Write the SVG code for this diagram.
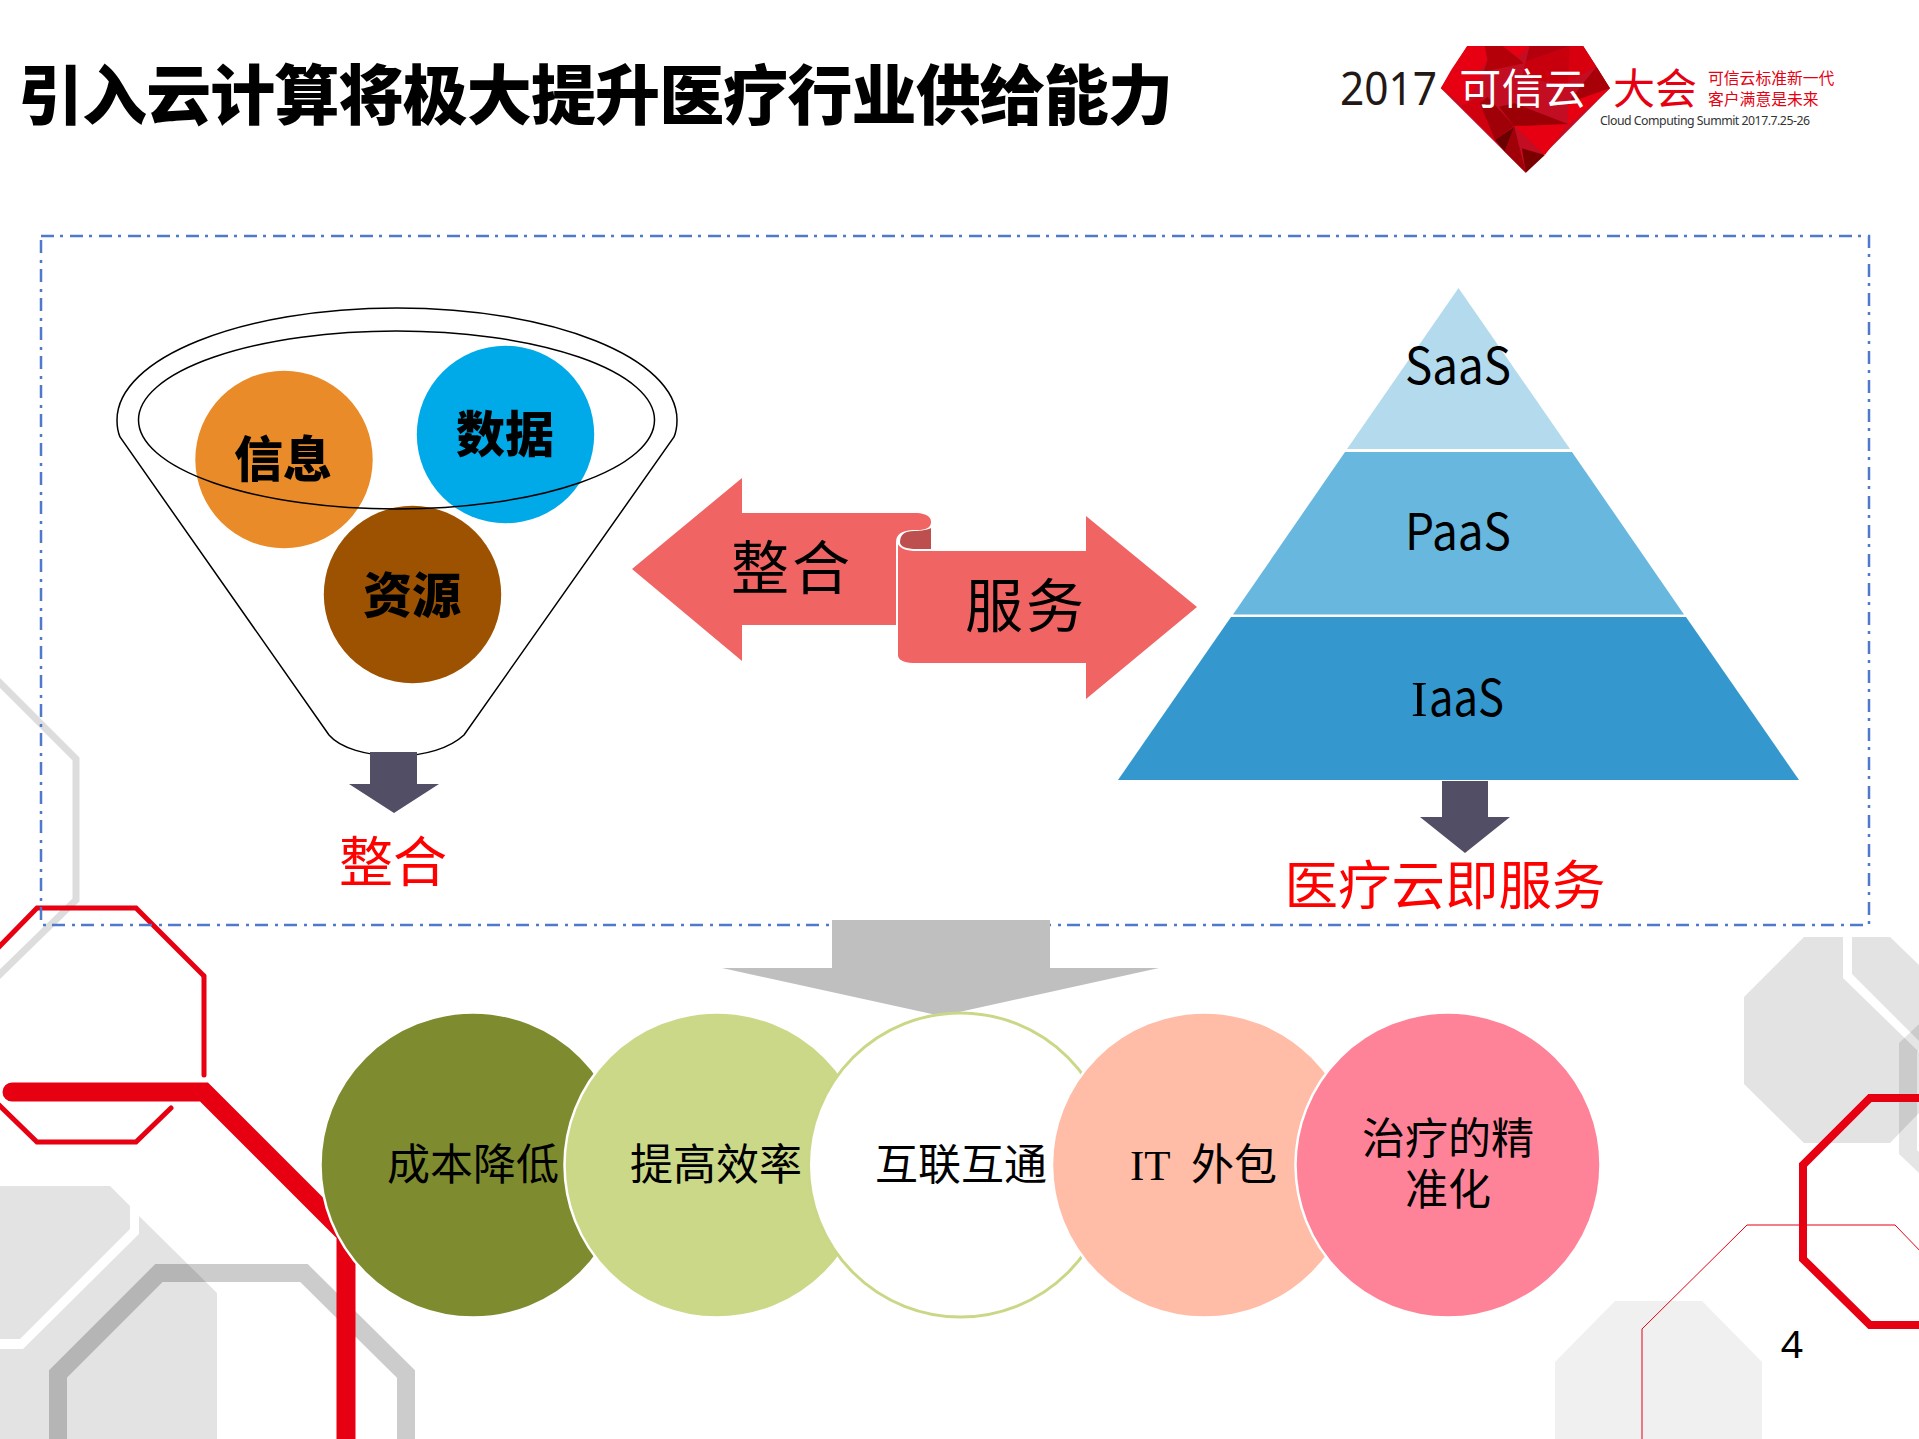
<svg xmlns="http://www.w3.org/2000/svg" width="1919" height="1439" viewBox="0 0 1919 1439">
<style>
text{font-family:"Noto Sans CJK SC","Noto Sans",sans-serif;fill:#000}
.m{text-anchor:middle}
.red{fill:#f00}
.bold{font-weight:900;font-size:49px}
.body{font-size:43px}
.saas{font-size:50px}
.arrowtext{font-size:58px}
.deco{fill:none;stroke-linejoin:miter}
.r{stroke:#e60012}
.dark{fill:#524e66}
.ball{stroke:#fff;stroke-width:2.5}
.f{fill:none;stroke:#000;stroke-width:1.5}
.dbl{fill:#f16464}
</style>
<rect width="1919" height="1439" fill="#fff"/>
<g id="background">
<polygon points="0,1186 110,1186 130,1206 130,1229 20,1339 0,1339" fill="#e3e3e3"/>
<polygon points="139,1216 217,1293 217,1439 0,1439 0,1349 23,1349 139,1234" fill="#e3e3e3"/>
<polyline class="deco" points="58,1439 58,1374 159,1273 304,1273 406,1374 406,1439" stroke="#000" stroke-opacity=".2" stroke-width="18"/>
<polyline class="deco" points="-4,679 76,759 76,900 -4,978" stroke="#ddd" stroke-width="7"/>
<polygon points="1744,997 1804,937 1843,937 1843,978 1919,1052 1919,1113 1890,1143 1804,1143 1744,1084" fill="#e3e3e3"/>
<polygon points="1852,937 1890,937 1919,965 1919,1041 1852,974" fill="#e3e3e3"/>
<path d="M1899,1043 L1919,1024 L1919,1050 L1917,1052 V1150 L1919,1152 V1173 L1899,1154 Z" fill="#000" fill-opacity=".1"/>
<polygon points="1555,1439 1555,1362 1615,1301 1702,1301 1762,1362 1762,1439" fill="#f0f0f0"/>
<polyline class="deco r" points="-3,949 37,908 136,908 204,976" stroke-width="5"/>
<path class="deco r" d="M204,976 V1075" stroke-width="5" stroke-linecap="round"/>
<polyline class="deco r" points="-3,1103 37,1142 136,1142 171,1108" stroke-width="5" stroke-linecap="round"/>
<path class="deco r" d="M12,1092 H204 L346,1234 V1439" stroke-width="19" stroke-linecap="round"/>
<polyline class="deco r" points="1925,1098 1870,1098 1803,1165 1803,1259 1870,1325 1925,1325" stroke-width="8"/>
<polyline class="deco r" points="1642,1439 1642,1329 1747,1225 1895,1225 1925,1256" stroke-width="1"/>
</g>
<g id="title"><text x="18" y="119" font-size="65" font-weight="900" textLength="1155" lengthAdjust="spacing">引入云计算将极大提升医疗行业供给能力</text></g>
<g id="logo">
<g transform="translate(1300,20) scale(.3827,.3333)">
<polygon points="437,78 740,78 810,205 590,458 368,205" fill="#c30d23"/>
<polygon points="437,78 483,78 490,120 470,155 395,150" fill="#e60012"/>
<polygon points="483,78 530,78 585,130 480,155 490,120" fill="#b30009"/>
<polygon points="530,78 600,78 570,112" fill="#e60012"/>
<polygon points="600,78 705,78 590,125" fill="#b3000c"/>
<polygon points="705,78 740,78 775,140 700,185" fill="#d8000f"/>
<polygon points="590,125 705,78 700,200 580,170" fill="#c8000e"/>
<polygon points="368,205 395,150 480,160 430,258" fill="#e60012"/>
<polygon points="775,140 810,205 700,250 740,190" fill="#a80008"/>
<polygon points="420,258 470,230 520,330 510,360" fill="#d0000f"/>
<polygon points="490,230 560,318 510,360 470,250" fill="#a00008"/>
<polygon points="560,318 700,312 640,405" fill="#e60012"/>
<polygon points="510,360 560,320 535,395" fill="#6a0000"/>
<polygon points="535,395 560,320 590,458" fill="#a00008"/>
<polygon points="580,385 640,405 590,458" fill="#7a0000"/>
<polygon points="700,250 810,205 700,318" fill="#e60012"/>
<polygon points="560,250 700,312 560,318 520,260" fill="#9a0005"/>
</g>
<text x="1340" y="105" font-size="46" textLength="97" lengthAdjust="spacingAndGlyphs" style="fill:#231815;font-family:'Noto Sans',sans-serif">2017</text>
<text x="1523" y="104" class="m" font-size="42" style="fill:#fff;letter-spacing:.5px">可信云</text>
<text x="1655" y="104" class="m" font-size="42" style="fill:#e60012">大会</text>
<text x="1708" y="84" font-size="15.8" style="fill:#e60012">可信云标准新一代</text>
<text x="1708" y="105" font-size="15.8" style="fill:#e60012">客户满意是未来</text>
<text x="1600" y="125" font-size="12.3" textLength="210" style="fill:#333;font-family:'Noto Sans',sans-serif">Cloud Computing Summit 2017.7.25-26</text>
</g>
<g id="frame"><rect x="41" y="236" width="1828" height="689" fill="none" stroke="#4f7acb" stroke-width="2.5" stroke-dasharray="13 6 3 7"/></g>
<g id="funnel">
<circle cx="284" cy="459.5" r="88.7" fill="#e98b28"/>
<circle cx="505.5" cy="434.5" r="88.7" fill="#00a9e8"/>
<circle cx="412.5" cy="594.5" r="88.7" fill="#9c5200"/>
<path class="f" d="M120,437 Q117,430 117,420 C117,358 241,308 397,308 C553,308 677,358 677,420 Q677,430 674,437 L464,735 C450,748 425,756 396,756 C367,756 340,748 329,735 Z"/>
<ellipse class="f" cx="396.5" cy="420" rx="258" ry="89"/>
<text x="283" y="477" class="m bold">信息</text>
<text x="505" y="452" class="m bold">数据</text>
<text x="412" y="613" class="m bold">资源</text>
</g>
<g id="label-integrate"><text x="393" y="882" class="m red" font-size="54">整合</text></g>
<g id="double-arrow">
<path class="dbl" d="M632,569 L742,478 V513 H917 Q931,514 931,522 Q931,530 917,530 H912 Q896,531 896,542 V625 H742 V661 Z"/>
<path d="M900,542 Q900,531 914,531 H917 Q928,530 931,528 V549 H917 Q900,549 900,542 Z" fill="#bd4f4f"/>
<path class="dbl" d="M898,544 Q901,551 917,551 H1086 V516 L1197,607 L1086,699 V663 H913 Q898,662 898,655 Z"/>
<text x="792" y="589" class="m arrowtext" style="letter-spacing:3px">整合</text>
<text x="1026" y="627" class="m arrowtext" style="letter-spacing:3px">服务</text>
</g>
<g id="pyramid">
<polygon points="1458.5,288 1570,449 1347,449" fill="#b4dbed"/>
<polygon points="1345,452 1572,452 1684,614.5 1233,614.5" fill="#67b7df"/>
<polygon points="1231,617 1686,617 1799,780 1118,780" fill="#3498cf"/>
<text x="1405" y="384" class="saas" textLength="106" lengthAdjust="spacingAndGlyphs">SaaS</text>
<text x="1405" y="550" class="saas" textLength="106" lengthAdjust="spacingAndGlyphs">PaaS</text>
<text x="1411" y="716" class="saas"><tspan style="font-family:'Liberation Serif',serif">I</tspan><tspan x="1429" textLength="75" lengthAdjust="spacingAndGlyphs">aaS</tspan></text>
</g>
<g id="label-service"><text x="1445" y="905" class="m red" font-size="53.5">医疗云即服务</text></g>
<g id="connectors">
<polygon class="dark" points="370,752 417,752 417,784 439,784 394,813 349,784 370,784"/>
<polygon class="dark" points="1442,781 1488,781 1488,817 1510,817 1465,853 1420,817 1442,817"/>
<polygon fill="#bfbfbf" points="832,920 1050,920 1050,968 1159,968 941,1016 722,968 832,968"/>
</g>
<g id="node-cost"><circle class="ball" cx="473" cy="1165" r="152.5" fill="#7f8b2f"/><text x="473" y="1180" class="m body">成本降低</text></g>
<g id="node-efficiency"><circle class="ball" cx="717" cy="1165" r="152.5" fill="#cbd887"/><text x="716" y="1180" class="m body">提高效率</text></g>
<g id="node-interconnect"><circle cx="960.5" cy="1165" r="152" fill="#fff" stroke="#c9d887" stroke-width="3"/><text x="961" y="1180" class="m body">互联互通</text></g>
<g id="node-outsource"><circle class="ball" cx="1204.5" cy="1165" r="152.5" fill="#ffbca6"/><text x="1130" y="1180" class="body" style="font-family:'Liberation Serif',serif">IT</text><text x="1191" y="1180" class="body">外包</text></g>
<g id="node-precision"><circle class="ball" cx="1448" cy="1165" r="152.5" fill="#ff8398"/><text x="1448" y="1154" class="m body">治疗的精</text><text x="1448" y="1205" class="m body">准化</text></g>
<g id="page-number"><text x="1792" y="1358" class="m" font-size="39" style="font-family:'Noto Sans',sans-serif">4</text></g>
</svg>
